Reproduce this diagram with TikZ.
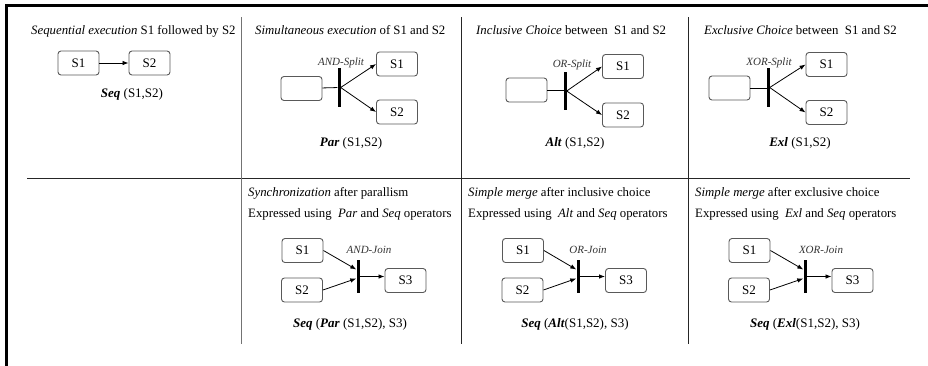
\documentclass[tikz,border=0pt]{standalone}
\usepackage{fontspec}
\setmainfont{Liberation Serif}
\usetikzlibrary{arrows.meta,calc}
\begin{document}
\begin{tikzpicture}[x=1pt,y=-1pt,
  task/.style={draw=black!65,rounded corners=3pt,line width=0.9pt,minimum width=41pt,
    minimum height=24pt,inner sep=0pt,font=\fontsize{13}{15}\selectfont},
  gate/.style={fill=black,draw=none,minimum width=3pt,inner sep=0pt},
  flow/.style={-{Latex[length=6pt,width=4.5pt]},line width=0.8pt},
  plain/.style={line width=0.8pt},
  txt/.style={anchor=base west,inner sep=0pt,font=\fontsize{12.8}{15}\selectfont},
  opcap/.style={anchor=base,inner sep=0pt,font=\fontsize{13}{15}\selectfont},
  lbl/.style={anchor=base,inner sep=0pt,font=\fontsize{11}{13}\selectfont\itshape,text=black!80},
  rule/.style={line width=1pt,draw=black!85}
]
\useasboundingbox (0,0) rectangle (928,365);

% outer frame and table rules
\draw[line width=2.5pt] (6.5,366) -- (6.5,5.5) -- (929,5.5);
\draw[rule] (27,178) -- (910,178);
\draw[rule,draw=black!55] (241.5,17) -- (241.5,344);
\draw[rule] (461.5,17) -- (461.5,344);
\draw[rule] (688.5,17) -- (688.5,344);

% ---- Sequence
\node[txt] (h1) at (31,34) {\textit{Sequential execution} S1 followed by S2};
\node[task] (a1) at (78.5,63) {S1};
\node[task] (a2) at (149.5,63) {S2};
\draw[flow] (a1) -- (a2);
\node[opcap] (c1) at (132,97) {\textbf{\textit{Seq}} (S1,S2)};

% ---- AND split
\node[txt] (h2) at (255,34) {\textit{Simultaneous execution} of S1 and S2};
\node[task] (e2) at (301.5,88.5) {};
\node[gate,minimum height=39pt] (g2) at (339,87.5) {};
\node[task] (b21) at (397,64) {S1};
\node[task] (b22) at (397,112) {S2};
\draw[plain] (e2) -- (g2);
\draw[flow] (g2.east) -- (b21.west);
\draw[flow] (g2.east) -- (b22.west);
\node[lbl] (l2) at (341,65) {AND-Split};
\node[opcap] (c2) at (351,146) {\textbf{\textit{Par}} (S1,S2)};

% ---- OR split
\node[txt] (h3) at (476,34) {\textit{Inclusive Choice} between\ \ S1 and S2};
\node[task] (e3) at (526.5,90) {};
\node[gate,minimum height=38pt] (g3) at (565,91) {};
\node[task] (b31) at (623,66.5) {S1};
\node[task] (b32) at (623,115) {S2};
\draw[plain] (e3) -- (e3 -| g3);
\draw[flow] (g3.east) -- (b31.west);
\draw[flow] (g3.east) -- (b32.west);
\node[lbl] (l3) at (572,67) {OR-Split};
\node[opcap] (c3) at (575,146) {\textbf{\textit{Alt}} (S1,S2)};

% ---- XOR split
\node[txt] (h4) at (704,34) {\textit{Exclusive Choice} between\ \ S1 and S2};
\node[task] (e4) at (729.5,88) {};
\node[gate,minimum height=39pt] (g4) at (768,87.5) {};
\node[task] (b41) at (826.5,64.5) {S1};
\node[task] (b42) at (826.5,112.5) {S2};
\draw[plain] (e4) -- (e4 -| g4);
\draw[flow] (g4.east) -- (b41.west);
\draw[flow] (g4.east) -- (b42.west);
\node[lbl] (l4) at (769,65) {XOR-Split};
\node[opcap] (c4) at (800,146) {\textbf{\textit{Exl}} (S1,S2)};

% ---- AND join
\node[txt] (s2a) at (248,196) {\textit{Synchronization} after parallism};
\node[txt] (s2b) at (248,217) {Expressed using\ \ \textit{Par} and \textit{Seq} operators};
\node[task] (j21) at (302.5,250.5) {S1};
\node[task] (j22) at (302,290) {S2};
\node[gate,minimum height=33pt] (jg2) at (358,276.5) {};
\node[task] (j23) at (405.5,280.5) {S3};
\draw[flow] (j21.east) -- ($(jg2.west)+(0,-7)$);
\draw[flow] (j22.east) -- ($(jg2.west)+(0,2)$);
\draw[flow] (jg2.east) -- (jg2.east -| j23.west);
\node[lbl] (m2) at (369,253) {AND-Join};
\node[opcap] (d2) at (350,327) {\textbf{\textit{Seq}} (\textbf{\textit{Par}} (S1,S2), S3)};

% ---- OR join
\node[txt] (s3a) at (468,196) {\textit{Simple merge} after inclusive choice};
\node[txt] (s3b) at (468,217) {Expressed using\ \ \textit{Alt} and \textit{Seq} operators};
\node[task] (j31) at (523,250.5) {S1};
\node[task] (j32) at (522.5,290) {S2};
\node[gate,minimum height=33pt] (jg3) at (578,276.5) {};
\node[task] (j33) at (626,280.5) {S3};
\draw[flow] (j31.east) -- ($(jg3.west)+(0,-7)$);
\draw[flow] (j32.east) -- ($(jg3.west)+(0,2)$);
\draw[flow] (jg3.east) -- (jg3.east -| j33.west);
\node[lbl] (m3) at (588,253) {OR-Join};
\node[opcap] (d3) at (575,327) {\textbf{\textit{Seq}} (\textbf{\textit{Alt}}(S1,S2), S3)};

% ---- XOR join
\node[txt] (s4a) at (695,196) {\textit{Simple merge} after exclusive choice};
\node[txt] (s4b) at (695,217) {Expressed using\ \ \textit{Exl} and \textit{Seq} operators};
\node[task] (j41) at (749.5,250.5) {S1};
\node[task] (j42) at (749,290) {S2};
\node[gate,minimum height=33pt] (jg4) at (805,276.5) {};
\node[task] (j43) at (852.5,280.5) {S3};
\draw[flow] (j41.east) -- ($(jg4.west)+(0,-7)$);
\draw[flow] (j42.east) -- ($(jg4.west)+(0,2)$);
\draw[flow] (jg4.east) -- (jg4.east -| j43.west);
\node[lbl] (m4) at (821,253) {XOR-Join};
\node[opcap] (d4) at (805,327) {\textbf{\textit{Seq}} (\textbf{\textit{Exl}}(S1,S2), S3)};
\end{tikzpicture}
\end{document}
